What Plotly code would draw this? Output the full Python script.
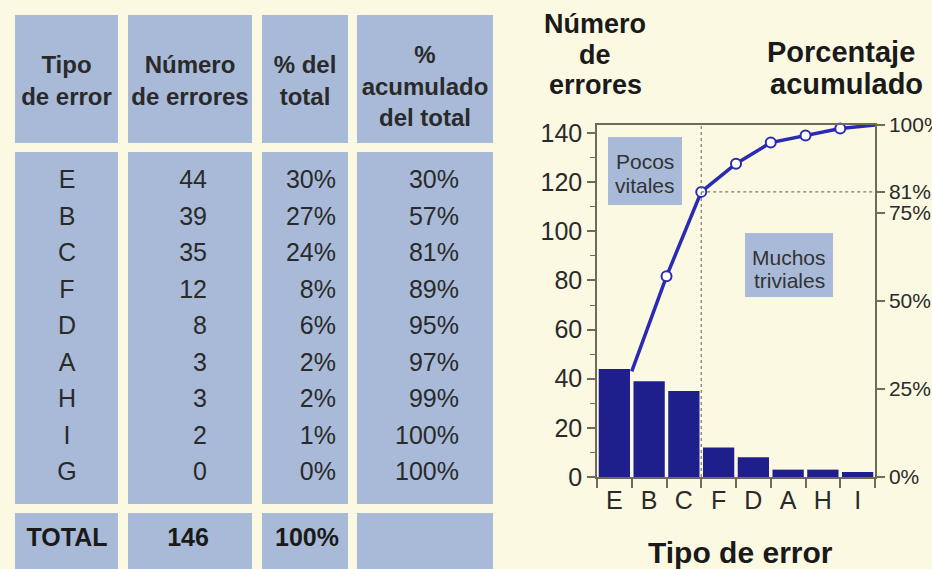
import plotly.graph_objects as go

W, H = 932, 569

# tabla de errores
tipos = ["E", "B", "C", "F", "D", "A", "H", "I", "G"]
errores = [44, 39, 35, 12, 8, 3, 3, 2, 0]
pct_total = ["30%", "27%", "24%", "8%", "6%", "2%", "2%", "1%", "0%"]
pct_acum = ["30%", "57%", "81%", "89%", "95%", "97%", "99%", "100%", "100%"]
fila_total = ["TOTAL", "146", "100%"]
encabezados = [["Tipo", "de error"], ["Número", "de errores"],
               ["% del", "total"], ["%", "acumulado", "del total"]]

# grafico de Pareto (G = 0 no lleva barra)
bar_cats = [t for t, n in zip(tipos, errores) if n > 0]
bar_vals = [n for n in errores if n > 0]
cum_pct = [int(p.rstrip("%")) for p in pct_acum[:len(bar_cats)]]
right_ticks = [0, 25, 50, 75, 81, 100]
left_ticks = [0, 20, 40, 60, 80, 100, 120, 140]

BG = "#fcf9e3"
CELL = "#a8bad8"
NAVY = "#1e1e8c"
BLUE = "#2a2ab4"
AXIS = "#6e6c58"
TXT = "#2a2a2a"
ARIAL = "Liberation Sans, Arial, sans-serif"


def px(x):
    return x / W


def py(y):
    return 1 - y / H


fig = go.Figure()

# ---- tabla (ejes ocultos en pixeles)
col_edges = [(15, 118), (128, 252), (262, 348), (357, 493)]
blocks = [(15, 143), (152, 504), (513, 590)]
for x0, x1 in col_edges:
    for y0, y1 in blocks:
        fig.add_shape(type="rect", xref="x3", yref="y3", x0=x0, x1=x1, y0=y0, y1=y1,
                      fillcolor=CELL, line_width=0, layer="below")

head_first = [67, 67, 67, 57]
for (x0, x1), lines, y0 in zip(col_edges, encabezados, head_first):
    fig.add_trace(go.Scatter(
        x=[(x0 + x1) / 2] * len(lines), y=[y0 + 31.5 * j for j in range(len(lines))],
        text=lines, mode="text", xaxis="x3", yaxis="y3", hoverinfo="skip",
        textfont=dict(family=ARIAL, size=24, color=TXT, weight="bold"),
    ))

row_y = [182 + 36.5 * i for i in range(len(tipos))]
columnas = [(tipos, 67, "middle center"), ([str(n) for n in errores], 207, "middle left"),
            (pct_total, 336, "middle left"), (pct_acum, 459, "middle left")]
for vals, x, pos in columnas:
    fig.add_trace(go.Scatter(
        x=[x] * len(vals), y=row_y, text=vals, mode="text", textposition=pos,
        xaxis="x3", yaxis="y3", hoverinfo="skip",
        textfont=dict(family=ARIAL, size=25, color=TXT),
    ))

fig.add_trace(go.Scatter(
    x=[67, 188, 307], y=[540] * 3, text=fila_total, mode="text",
    xaxis="x3", yaxis="y3", hoverinfo="skip",
    textfont=dict(family=ARIAL, size=25, color="#1a1a1a", weight="bold"),
))

# ---- grafico
n = len(bar_cats)
fig.add_trace(go.Bar(x=list(range(n)), y=bar_vals, width=0.9,
                     marker=dict(color=NAVY, line_width=0)))
edge_x = [i + 0.5 for i in range(n)]
fig.add_trace(go.Scatter(x=edge_x, y=cum_pct, yaxis="y2", mode="lines",
                         line=dict(color=BLUE, width=3.5), cliponaxis=False))
fig.add_trace(go.Scatter(x=edge_x[1:-1], y=cum_pct[1:-1], yaxis="y2", mode="markers",
                         marker=dict(symbol="circle", size=10, color="white",
                                     line=dict(color=BLUE, width=2)),
                         cliponaxis=False))

# lineas punteadas del 81 %
fig.add_shape(type="line", xref="x", yref="y domain", x0=2.5, x1=2.5, y0=0, y1=1,
              line=dict(color="#7a7a70", width=1.2, dash="dot"))
fig.add_shape(type="line", xref="x", yref="y2", x0=2.5, x1=n - 0.5, y0=81, y1=81,
              line=dict(color="#7a7a70", width=1.2, dash="dot"))

# cuadros de texto
cajas = [((608, 137, 682, 205), ["Pocos", "vitales"], (162, 185)),
         ((745, 233, 833, 297), ["Muchos", "triviales"], (257, 280))]
for (x0, y0, x1, y1), lines, ys in cajas:
    fig.add_shape(type="rect", xref="paper", yref="paper", x0=px(x0), x1=px(x1),
                  y0=py(y1), y1=py(y0), fillcolor=CELL, line_width=0, layer="below")
    for t, yy in zip(lines, ys):
        fig.add_annotation(x=px((x0 + x1) / 2), y=py(yy), xref="paper", yref="paper",
                           text=t, showarrow=False, xanchor="center", yanchor="middle",
                           font=dict(family=ARIAL, size=21, color="#333333"))

titles = [("Número", 595, 24, "center", 27), ("de", 595, 55, "center", 27),
          ("errores", 595, 85, "center", 27),
          ("Porcentaje", 765, 52, "left", 29), ("acumulado", 768, 84, "left", 29),
          ("Tipo de error", 740, 552, "center", 30)]
for t, x, y, anchor, size in titles:
    fig.add_annotation(x=px(x), y=py(y), xref="paper", yref="paper", text=t,
                       showarrow=False, xanchor=anchor, yanchor="middle",
                       font=dict(family=ARIAL, size=size, color="#1a1a1a", weight="bold"))

fig.update_layout(
    width=W, height=H, margin=dict(l=0, r=0, t=0, b=0, autoexpand=False),
    paper_bgcolor=BG, plot_bgcolor="rgba(0,0,0,0)", showlegend=False,
    xaxis=dict(domain=[px(597), px(875)], range=[-0.5, n - 0.5], automargin=False,
               tickvals=list(range(n)), ticktext=bar_cats, ticks="",
               tickfont=dict(family=ARIAL, size=25, color=TXT),
               showline=True, linecolor=AXIS, linewidth=1.5, mirror=True,
               showgrid=False, zeroline=False,
               minor=dict(ticks="outside", tick0=0.5, dtick=1, ticklen=9,
                          tickcolor=AXIS, tickwidth=1.5, showgrid=False)),
    yaxis=dict(domain=[py(477), py(125)], range=[0, 143.3], tickvals=left_ticks,
               automargin=False,
               ticks="outside", ticklen=8, tickcolor=AXIS, tickwidth=1.5,
               tickfont=dict(family=ARIAL, size=25, color=TXT),
               showline=True, linecolor=AXIS, linewidth=1.5,
               showgrid=False, zeroline=False,
               minor=dict(ticks="outside", dtick=10, ticklen=5, tickcolor=AXIS,
                          tickwidth=1.2, showgrid=False)),
    yaxis2=dict(overlaying="y", side="right", anchor="x", range=[0, 100],
                automargin=False,
                tickvals=right_ticks, ticktext=[f"{v}%" for v in right_ticks],
                ticks="outside", ticklen=8, tickcolor=AXIS, tickwidth=1.5,
                tickfont=dict(family=ARIAL, size=21, color=TXT),
                showline=True, linecolor=AXIS, linewidth=1.5,
                showgrid=False, zeroline=False),
    xaxis3=dict(domain=[0, px(503)], range=[0, 503], visible=False, anchor="y3",
                automargin=False),
    yaxis3=dict(domain=[0, 1], range=[H, 0], visible=False, anchor="x3",
                automargin=False),
)

# drop the default 8px body margin so the figure sits at the window corner
fig.write_html("out.html", config={"displayModeBar": False},
               post_script="document.body.style.margin='0';")
